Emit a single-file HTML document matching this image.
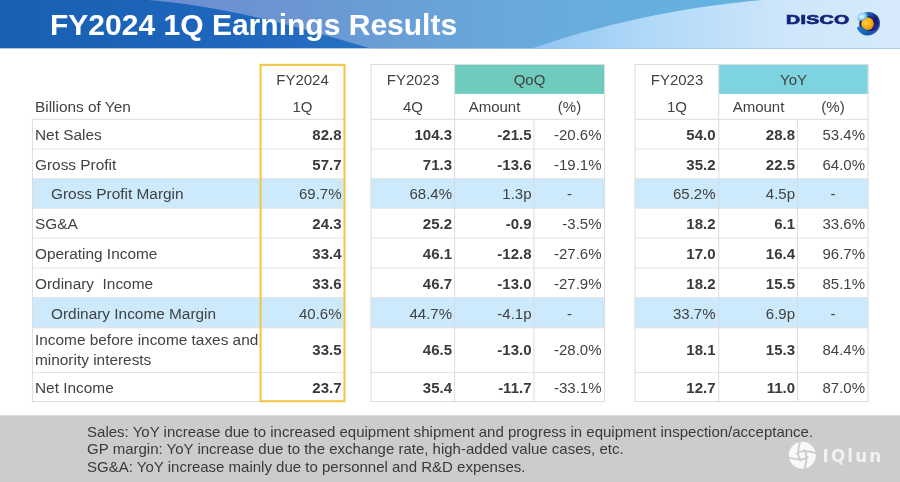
<!DOCTYPE html>
<html lang="en"><head><meta charset="utf-8"><title>FY2024 1Q Earnings Results</title>
<style>
html,body{margin:0;padding:0;}
body{width:900px;height:482px;position:relative;overflow:hidden;background:#fff;font-family:"Liberation Sans",sans-serif;color:#424242;font-size:15px;}
.abs{position:absolute;}
.t{position:absolute;white-space:nowrap;line-height:20px;height:20px;}
.r{text-align:right;}
.l{font-size:15.4px;}
.c{text-align:center;}
.b{font-weight:bold;color:#3a3a3a;}
</style></head><body>
<div class="abs" style="left:0;top:0;width:900px;height:49px;overflow:hidden;">
<svg width="900" height="49" viewBox="0 0 900 49" style="display:block">
<defs>
<linearGradient id="g0" x1="0" x2="1" y1="0" y2="0"><stop offset="0" stop-color="#1960b2"/><stop offset="0.25" stop-color="#1d66bc"/><stop offset="0.45" stop-color="#2a74c6"/></linearGradient>
<linearGradient id="g1" gradientUnits="userSpaceOnUse" x1="148" x2="800" y1="0" y2="0"><stop offset="0" stop-color="#6e8ccf"/><stop offset="0.3" stop-color="#6a9ad4"/><stop offset="0.6" stop-color="#68abdc"/><stop offset="1" stop-color="#62b4e0"/></linearGradient>
<linearGradient id="g2" gradientUnits="userSpaceOnUse" x1="530" x2="900" y1="0" y2="0"><stop offset="0" stop-color="#8fc4f0"/><stop offset="0.3" stop-color="#aed8f8"/><stop offset="0.7" stop-color="#cfe6fa"/><stop offset="1" stop-color="#d6eafb"/></linearGradient>
</defs>
<rect width="900" height="48.35" fill="url(#g0)"/>
<path d="M148 0 C215 6 270 18 370 48.35 L900 48.35 L900 0 Z" fill="url(#g1)"/>
<path d="M532.5 48.35 C595 26 680 7 762 0 L900 0 L900 48.35 Z" fill="url(#g2)"/>
</svg></div>
<div class="abs" style="left:50.4px;top:8.85px;font-size:28.6px;line-height:32px;font-weight:bold;color:#fff;white-space:nowrap;transform-origin:0 0;transform:scaleX(1.05);">FY2024 1Q Earnings Results</div>
<div class="abs" style="left:786px;top:12px;font-size:12.4px;line-height:16px;font-weight:bold;color:#14237a;-webkit-text-stroke:0.65px #14237a;white-space:nowrap;transform-origin:0 0;transform:scaleX(1.58);letter-spacing:0.2px;">DISCO</div>
<svg class="abs" style="left:850px;top:5px" width="40" height="36" viewBox="0 0 40 36">
<defs>
<radialGradient id="so" cx="0.42" cy="0.42" r="0.62"><stop offset="0" stop-color="#ffd23a"/><stop offset="0.55" stop-color="#fbb016"/><stop offset="1" stop-color="#e8860c"/></radialGradient>
<radialGradient id="sb" cx="0.42" cy="0.45" r="0.65"><stop offset="0" stop-color="#f2fbff"/><stop offset="0.45" stop-color="#a5daf6"/><stop offset="1" stop-color="#3f97dc"/></radialGradient>
<linearGradient id="sc" gradientUnits="userSpaceOnUse" x1="9" y1="8" x2="30" y2="26"><stop offset="0" stop-color="#2a8ad8"/><stop offset="0.35" stop-color="#1c55b0"/><stop offset="0.6" stop-color="#141a74"/><stop offset="0.85" stop-color="#1c2f92"/><stop offset="1" stop-color="#6f8fdc"/></linearGradient>
<linearGradient id="sw" gradientUnits="userSpaceOnUse" x1="8" y1="24" x2="24" y2="31"><stop offset="0" stop-color="#1f7ccc"/><stop offset="0.6" stop-color="#135cae"/><stop offset="1" stop-color="#2a5cb8"/></linearGradient>
</defs>
<circle cx="18.6" cy="18.4" r="11.4" fill="url(#sc)"/>
<path d="M25.5 10.5 A10.4 10.4 0 0 1 24.5 27.8 A11.4 11.4 0 0 0 25.5 10.5Z" fill="#7f9ee2" opacity="0.55"/>
<path d="M6.4 15.2 L9.8 14.8 C9.0 17.2 9.0 19.8 9.6 22.2 L6.4 22.6Z" fill="#d2e7fa"/>
<circle cx="17.3" cy="18.6" r="7.5" fill="#141b60"/>
<circle cx="17.5" cy="18.7" r="6.4" fill="url(#so)"/>
<path d="M7.0 22.4 C9.0 20.9 12.0 21.6 14.6 23.8 C17.6 26.4 21.5 27.0 26.8 25.2 C23.5 30.8 16 32.0 11.2 28.4 C8.8 26.6 7.3 24.6 7.0 22.4Z" fill="url(#sw)"/>
<ellipse cx="12.5" cy="11.7" rx="5.2" ry="3.8" transform="rotate(-18 12.5 11.7)" fill="url(#sb)"/>
</svg>
<svg class="abs" style="left:0;top:0" width="900" height="482" viewBox="0 0 900 482" fill="none" stroke="#dcdcdc" stroke-width="1"><rect x="32.2" y="178.7" width="311.4" height="29.7" fill="#cceafc" stroke="none"/><rect x="370.8" y="178.7" width="234.0" height="29.7" fill="#cceafc" stroke="none"/><rect x="634.8" y="178.7" width="233.5" height="29.7" fill="#cceafc" stroke="none"/><rect x="32.2" y="297.9" width="311.4" height="30.4" fill="#cceafc" stroke="none"/><rect x="370.8" y="297.9" width="234.0" height="30.4" fill="#cceafc" stroke="none"/><rect x="634.8" y="297.9" width="233.5" height="30.4" fill="#cceafc" stroke="none"/><rect x="454.8" y="64.3" width="150" height="29.6" fill="#6fcbbd" stroke="none"/><rect x="718.8" y="64.3" width="149.5" height="29.6" fill="#7dd3e0" stroke="none"/><path d="M32 119.3H344"/><path d="M370.5 119.3H605"/><path d="M634.5 119.3H868.5"/><path d="M32 149.1H344" stroke="#e3e3e3"/><path d="M370.5 149.1H605" stroke="#e3e3e3"/><path d="M634.5 149.1H868.5" stroke="#e3e3e3"/><path d="M32 178.75H344" stroke="#e3e3e3"/><path d="M370.5 178.75H605" stroke="#e3e3e3"/><path d="M634.5 178.75H868.5" stroke="#e3e3e3"/><path d="M32 208.1H344" stroke="#e3e3e3"/><path d="M370.5 208.1H605" stroke="#e3e3e3"/><path d="M634.5 208.1H868.5" stroke="#e3e3e3"/><path d="M32 238.0H344" stroke="#e3e3e3"/><path d="M370.5 238.0H605" stroke="#e3e3e3"/><path d="M634.5 238.0H868.5" stroke="#e3e3e3"/><path d="M32 268.0H344" stroke="#e3e3e3"/><path d="M370.5 268.0H605" stroke="#e3e3e3"/><path d="M634.5 268.0H868.5" stroke="#e3e3e3"/><path d="M32 297.6H344" stroke="#e3e3e3"/><path d="M370.5 297.6H605" stroke="#e3e3e3"/><path d="M634.5 297.6H868.5" stroke="#e3e3e3"/><path d="M32 327.6H344" stroke="#e3e3e3"/><path d="M370.5 327.6H605" stroke="#e3e3e3"/><path d="M634.5 327.6H868.5" stroke="#e3e3e3"/><path d="M32 372.5H344" stroke="#e3e3e3"/><path d="M370.5 372.5H605" stroke="#e3e3e3"/><path d="M634.5 372.5H868.5" stroke="#e3e3e3"/><path d="M32 401.6H344"/><path d="M370.5 401.6H605"/><path d="M634.5 401.6H868.5"/><path d="M370.5 64.5H605"/><path d="M634.5 64.5H868.5"/><path d="M32.4 119V402"/><path d="M371.0 64V402"/><path d="M454.6 64V402"/><path d="M604.5 64V402"/><path d="M635.0 64V402"/><path d="M718.75 64V402"/><path d="M868.0 64V402"/><path d="M534.0 119V402"/><path d="M797.5 119V402"/><rect x="260.6" y="64.9" width="83.9" height="336.3" stroke="#f2c84c" stroke-width="2.15"/></svg>
<div class="t c" style="left:260px;top:69.9px;width:85px;">FY2024</div>
<div class="t c" style="left:260px;top:96.9px;width:85px;">1Q</div>
<div class="t c" style="left:371px;top:69.9px;width:84px;">FY2023</div>
<div class="t c" style="left:371px;top:96.9px;width:84px;">4Q</div>
<div class="t c" style="left:455px;top:69.9px;width:149px;">QoQ</div>
<div class="t c" style="left:455px;top:96.9px;width:79px;">Amount</div>
<div class="t c" style="left:534px;top:96.9px;width:71px;">(%)</div>
<div class="t c" style="left:635px;top:69.9px;width:84px;">FY2023</div>
<div class="t c" style="left:635px;top:96.9px;width:84px;">1Q</div>
<div class="t c" style="left:719px;top:69.9px;width:149px;">YoY</div>
<div class="t c" style="left:719px;top:96.9px;width:79px;">Amount</div>
<div class="t c" style="left:798px;top:96.9px;width:70px;">(%)</div>
<div class="t l" style="left:35px;top:96.9px;width:200px;">Billions of Yen</div>
<div class="t l" style="left:35px;top:125.0px;width:260px;">Net Sales</div>
<div class="t r b" style="left:221.5px;top:125.0px;width:120px;">82.8</div>
<div class="t r b" style="left:332px;top:125.0px;width:120px;">104.3</div>
<div class="t r b" style="left:411.5px;top:125.0px;width:120px;">-21.5</div>
<div class="t r" style="left:481.5px;top:125.0px;width:120px;">-20.6%</div>
<div class="t r b" style="left:595.5px;top:125.0px;width:120px;">54.0</div>
<div class="t r b" style="left:675px;top:125.0px;width:120px;">28.8</div>
<div class="t r" style="left:745px;top:125.0px;width:120px;">53.4%</div>
<div class="t l" style="left:35px;top:154.5px;width:260px;">Gross Profit</div>
<div class="t r b" style="left:221.5px;top:154.5px;width:120px;">57.7</div>
<div class="t r b" style="left:332px;top:154.5px;width:120px;">71.3</div>
<div class="t r b" style="left:411.5px;top:154.5px;width:120px;">-13.6</div>
<div class="t r" style="left:481.5px;top:154.5px;width:120px;">-19.1%</div>
<div class="t r b" style="left:595.5px;top:154.5px;width:120px;">35.2</div>
<div class="t r b" style="left:675px;top:154.5px;width:120px;">22.5</div>
<div class="t r" style="left:745px;top:154.5px;width:120px;">64.0%</div>
<div class="t l" style="left:51px;top:184.0px;width:260px;">Gross Profit Margin</div>
<div class="t r" style="left:221.5px;top:184.0px;width:120px;">69.7%</div>
<div class="t r" style="left:332px;top:184.0px;width:120px;">68.4%</div>
<div class="t r" style="left:411.5px;top:184.0px;width:120px;">1.3p</div>
<div class="t c" style="left:539.5px;top:184.0px;width:60px;">-</div>
<div class="t r" style="left:595.5px;top:184.0px;width:120px;">65.2%</div>
<div class="t r" style="left:675px;top:184.0px;width:120px;">4.5p</div>
<div class="t c" style="left:803px;top:184.0px;width:60px;">-</div>
<div class="t l" style="left:35px;top:214.0px;width:260px;">SG&amp;A</div>
<div class="t r b" style="left:221.5px;top:214.0px;width:120px;">24.3</div>
<div class="t r b" style="left:332px;top:214.0px;width:120px;">25.2</div>
<div class="t r b" style="left:411.5px;top:214.0px;width:120px;">-0.9</div>
<div class="t r" style="left:481.5px;top:214.0px;width:120px;">-3.5%</div>
<div class="t r b" style="left:595.5px;top:214.0px;width:120px;">18.2</div>
<div class="t r b" style="left:675px;top:214.0px;width:120px;">6.1</div>
<div class="t r" style="left:745px;top:214.0px;width:120px;">33.6%</div>
<div class="t l" style="left:35px;top:244.0px;width:260px;">Operating Income</div>
<div class="t r b" style="left:221.5px;top:244.0px;width:120px;">33.4</div>
<div class="t r b" style="left:332px;top:244.0px;width:120px;">46.1</div>
<div class="t r b" style="left:411.5px;top:244.0px;width:120px;">-12.8</div>
<div class="t r" style="left:481.5px;top:244.0px;width:120px;">-27.6%</div>
<div class="t r b" style="left:595.5px;top:244.0px;width:120px;">17.0</div>
<div class="t r b" style="left:675px;top:244.0px;width:120px;">16.4</div>
<div class="t r" style="left:745px;top:244.0px;width:120px;">96.7%</div>
<div class="t l" style="left:35px;top:273.5px;width:260px;">Ordinary&nbsp; Income</div>
<div class="t r b" style="left:221.5px;top:273.5px;width:120px;">33.6</div>
<div class="t r b" style="left:332px;top:273.5px;width:120px;">46.7</div>
<div class="t r b" style="left:411.5px;top:273.5px;width:120px;">-13.0</div>
<div class="t r" style="left:481.5px;top:273.5px;width:120px;">-27.9%</div>
<div class="t r b" style="left:595.5px;top:273.5px;width:120px;">18.2</div>
<div class="t r b" style="left:675px;top:273.5px;width:120px;">15.5</div>
<div class="t r" style="left:745px;top:273.5px;width:120px;">85.1%</div>
<div class="t l" style="left:51px;top:303.9px;width:260px;">Ordinary Income Margin</div>
<div class="t r" style="left:221.5px;top:303.9px;width:120px;">40.6%</div>
<div class="t r" style="left:332px;top:303.9px;width:120px;">44.7%</div>
<div class="t r" style="left:411.5px;top:303.9px;width:120px;">-4.1p</div>
<div class="t c" style="left:539.5px;top:303.9px;width:60px;">-</div>
<div class="t r" style="left:595.5px;top:303.9px;width:120px;">33.7%</div>
<div class="t r" style="left:675px;top:303.9px;width:120px;">6.9p</div>
<div class="t c" style="left:803px;top:303.9px;width:60px;">-</div>
<div class="t l" style="left:35px;top:330.3px;height:auto;line-height:19.5px;">Income before income taxes and<br>minority interests</div>
<div class="t r b" style="left:221.5px;top:339.8px;width:120px;">33.5</div>
<div class="t r b" style="left:332px;top:339.8px;width:120px;">46.5</div>
<div class="t r b" style="left:411.5px;top:339.8px;width:120px;">-13.0</div>
<div class="t r" style="left:481.5px;top:339.8px;width:120px;">-28.0%</div>
<div class="t r b" style="left:595.5px;top:339.8px;width:120px;">18.1</div>
<div class="t r b" style="left:675px;top:339.8px;width:120px;">15.3</div>
<div class="t r" style="left:745px;top:339.8px;width:120px;">84.4%</div>
<div class="t l" style="left:35px;top:377.5px;width:260px;">Net Income</div>
<div class="t r b" style="left:221.5px;top:377.5px;width:120px;">23.7</div>
<div class="t r b" style="left:332px;top:377.5px;width:120px;">35.4</div>
<div class="t r b" style="left:411.5px;top:377.5px;width:120px;">-11.7</div>
<div class="t r" style="left:481.5px;top:377.5px;width:120px;">-33.1%</div>
<div class="t r b" style="left:595.5px;top:377.5px;width:120px;">12.7</div>
<div class="t r b" style="left:675px;top:377.5px;width:120px;">11.0</div>
<div class="t r" style="left:745px;top:377.5px;width:120px;">87.0%</div>
<div class="abs" style="left:0;top:415px;width:900px;height:67px;background:#cccccc;border-top:1px solid #dedede;box-sizing:border-box;"></div>
<div class="abs" style="left:87.1px;top:422.65px;font-size:15px;line-height:17.5px;white-space:nowrap;color:#3a3a3a;">Sales: YoY increase due to increased equipment shipment and progress in equipment inspection/acceptance.<br>GP margin: YoY increase due to the exchange rate, high-added value cases, etc.<br>SG&amp;A: YoY increase mainly due to personnel and R&amp;D expenses.</div>
<svg class="abs" style="left:786px;top:439px" width="33" height="33" viewBox="-16.3 -16.3 33 33">
<circle cx="0" cy="0" r="13.5" fill="#f8f8f8"/>
<g stroke="#cccccc" stroke-width="1.8" fill="none" stroke-linecap="round" stroke-linejoin="round">
<path d="M-2.2 -13.6 Q-4.4 -6 -4.1 -1.3 Q-3.9 2.6 -1.9 5.4"/>
<path d="M-2.2 -13.6 Q-4.4 -6 -4.1 -1.3 Q-3.9 2.6 -1.9 5.4" transform="rotate(90)"/>
<path d="M-2.2 -13.6 Q-4.4 -6 -4.1 -1.3 Q-3.9 2.6 -1.9 5.4" transform="rotate(180)"/>
<path d="M-2.2 -13.6 Q-4.4 -6 -4.1 -1.3 Q-3.9 2.6 -1.9 5.4" transform="rotate(270)"/>
</g></svg>
<div class="abs" style="left:822.6px;top:445px;font-size:16.8px;line-height:22px;font-weight:bold;color:#f1f1f1;white-space:nowrap;letter-spacing:2.1px;font-family:'DejaVu Sans','Liberation Sans',sans-serif;">IQlun</div>
</body></html>
